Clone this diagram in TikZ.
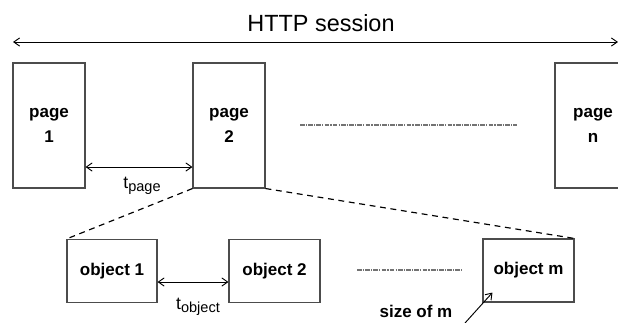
\documentclass[tikz,border=0pt]{standalone}
\usepackage{fontspec}
\setmainfont{Liberation Sans}
\usetikzlibrary{arrows.meta}
\tikzset{
  box/.style={draw=black!70,line width=0.9pt,rectangle,inner sep=0pt,align=center,
    font=\fontsize{14.5}{21}\selectfont\bfseries},
  pagebox/.style={box,minimum height=3.75cm},
  objbox/.style={box,minimum width=2.7cm,minimum height=1.89cm},
  gap/.style={<->,line width=0.8pt},
  zoomline/.style={dashed,dash pattern=on 5pt off 4pt,line width=1pt},
  elide/.style={black!55,line width=1.2pt,dash pattern=on 4pt off 1pt on 1pt off 1pt}
}
\newcommand{\tlabel}[1]{{\fontsize{15}{18}\selectfont t}\raisebox{-0.55ex}{\fontsize{12.4}{14}\selectfont #1}}
\begin{document}
\begin{tikzpicture}[x=0.03cm,y=-0.03cm,>={Straight Barb[length=5pt,width=7pt]}]
    \useasboundingbox (0,0) rectangle (618,322);
    % session
    \coordinate (sessL) at (13,42);
    \coordinate (sessR) at (618,42);
    \draw[<->,line width=0.8pt] (sessL) -- (sessR);
    \node[font=\fontsize{20}{24}\selectfont] (sess) at (321,23) {HTTP session};
    % pages
    \node[pagebox,minimum width=2.16cm] (p1) at (49,125.5) {page\\1};
    \node[pagebox,minimum width=2.16cm] (p2) at (229,125.5) {page\\2};
    \node[pagebox,minimum width=2.28cm] (pn) at (593,125.5) {page\\n};
    \draw[gap] ([yshift=-1.245cm]p1.east) -- ([yshift=-1.245cm]p2.west);
    \node[inner sep=0pt] (tp) at (142,186) {\tlabel{page}};
    \coordinate (pdotsL) at (300,125);
    \coordinate (pdotsR) at (517,125);
    \draw[elide] (pdotsL) -- (pdotsR);
    % objects
    \node[objbox] (o1) at (112,271) {object 1};
    \node[objbox,minimum width=2.73cm] (o2) at (274.5,271) {object 2};
    \node[objbox,minimum width=2.73cm] (om) at (528.5,270.5) {object m};
    \draw[gap] ([yshift=-0.33cm]o1.east) -- ([yshift=-0.33cm]o2.west);
    \node[inner sep=0pt] (to) at (198,307) {\tlabel{object}};
    \coordinate (odotsL) at (357,270);
    \coordinate (odotsR) at (463,270);
    \draw[elide] (odotsL) -- (odotsR);
    % zoom of page 2
    \draw[zoomline] (p2.south west) -- (o1.north west);
    \draw[zoomline] (p2.south east) -- (om.north east);
    % size
    \node[inner sep=0pt,font=\fontsize{14.5}{17}\selectfont\bfseries] (size) at (416,311) {size of m};
    \coordinate (sizetail) at (465,323);
    \draw[->,line width=0.8pt] (sizetail) -- ([xshift=0.3cm,yshift=0.3cm]om.south west);
\end{tikzpicture}
\end{document}
